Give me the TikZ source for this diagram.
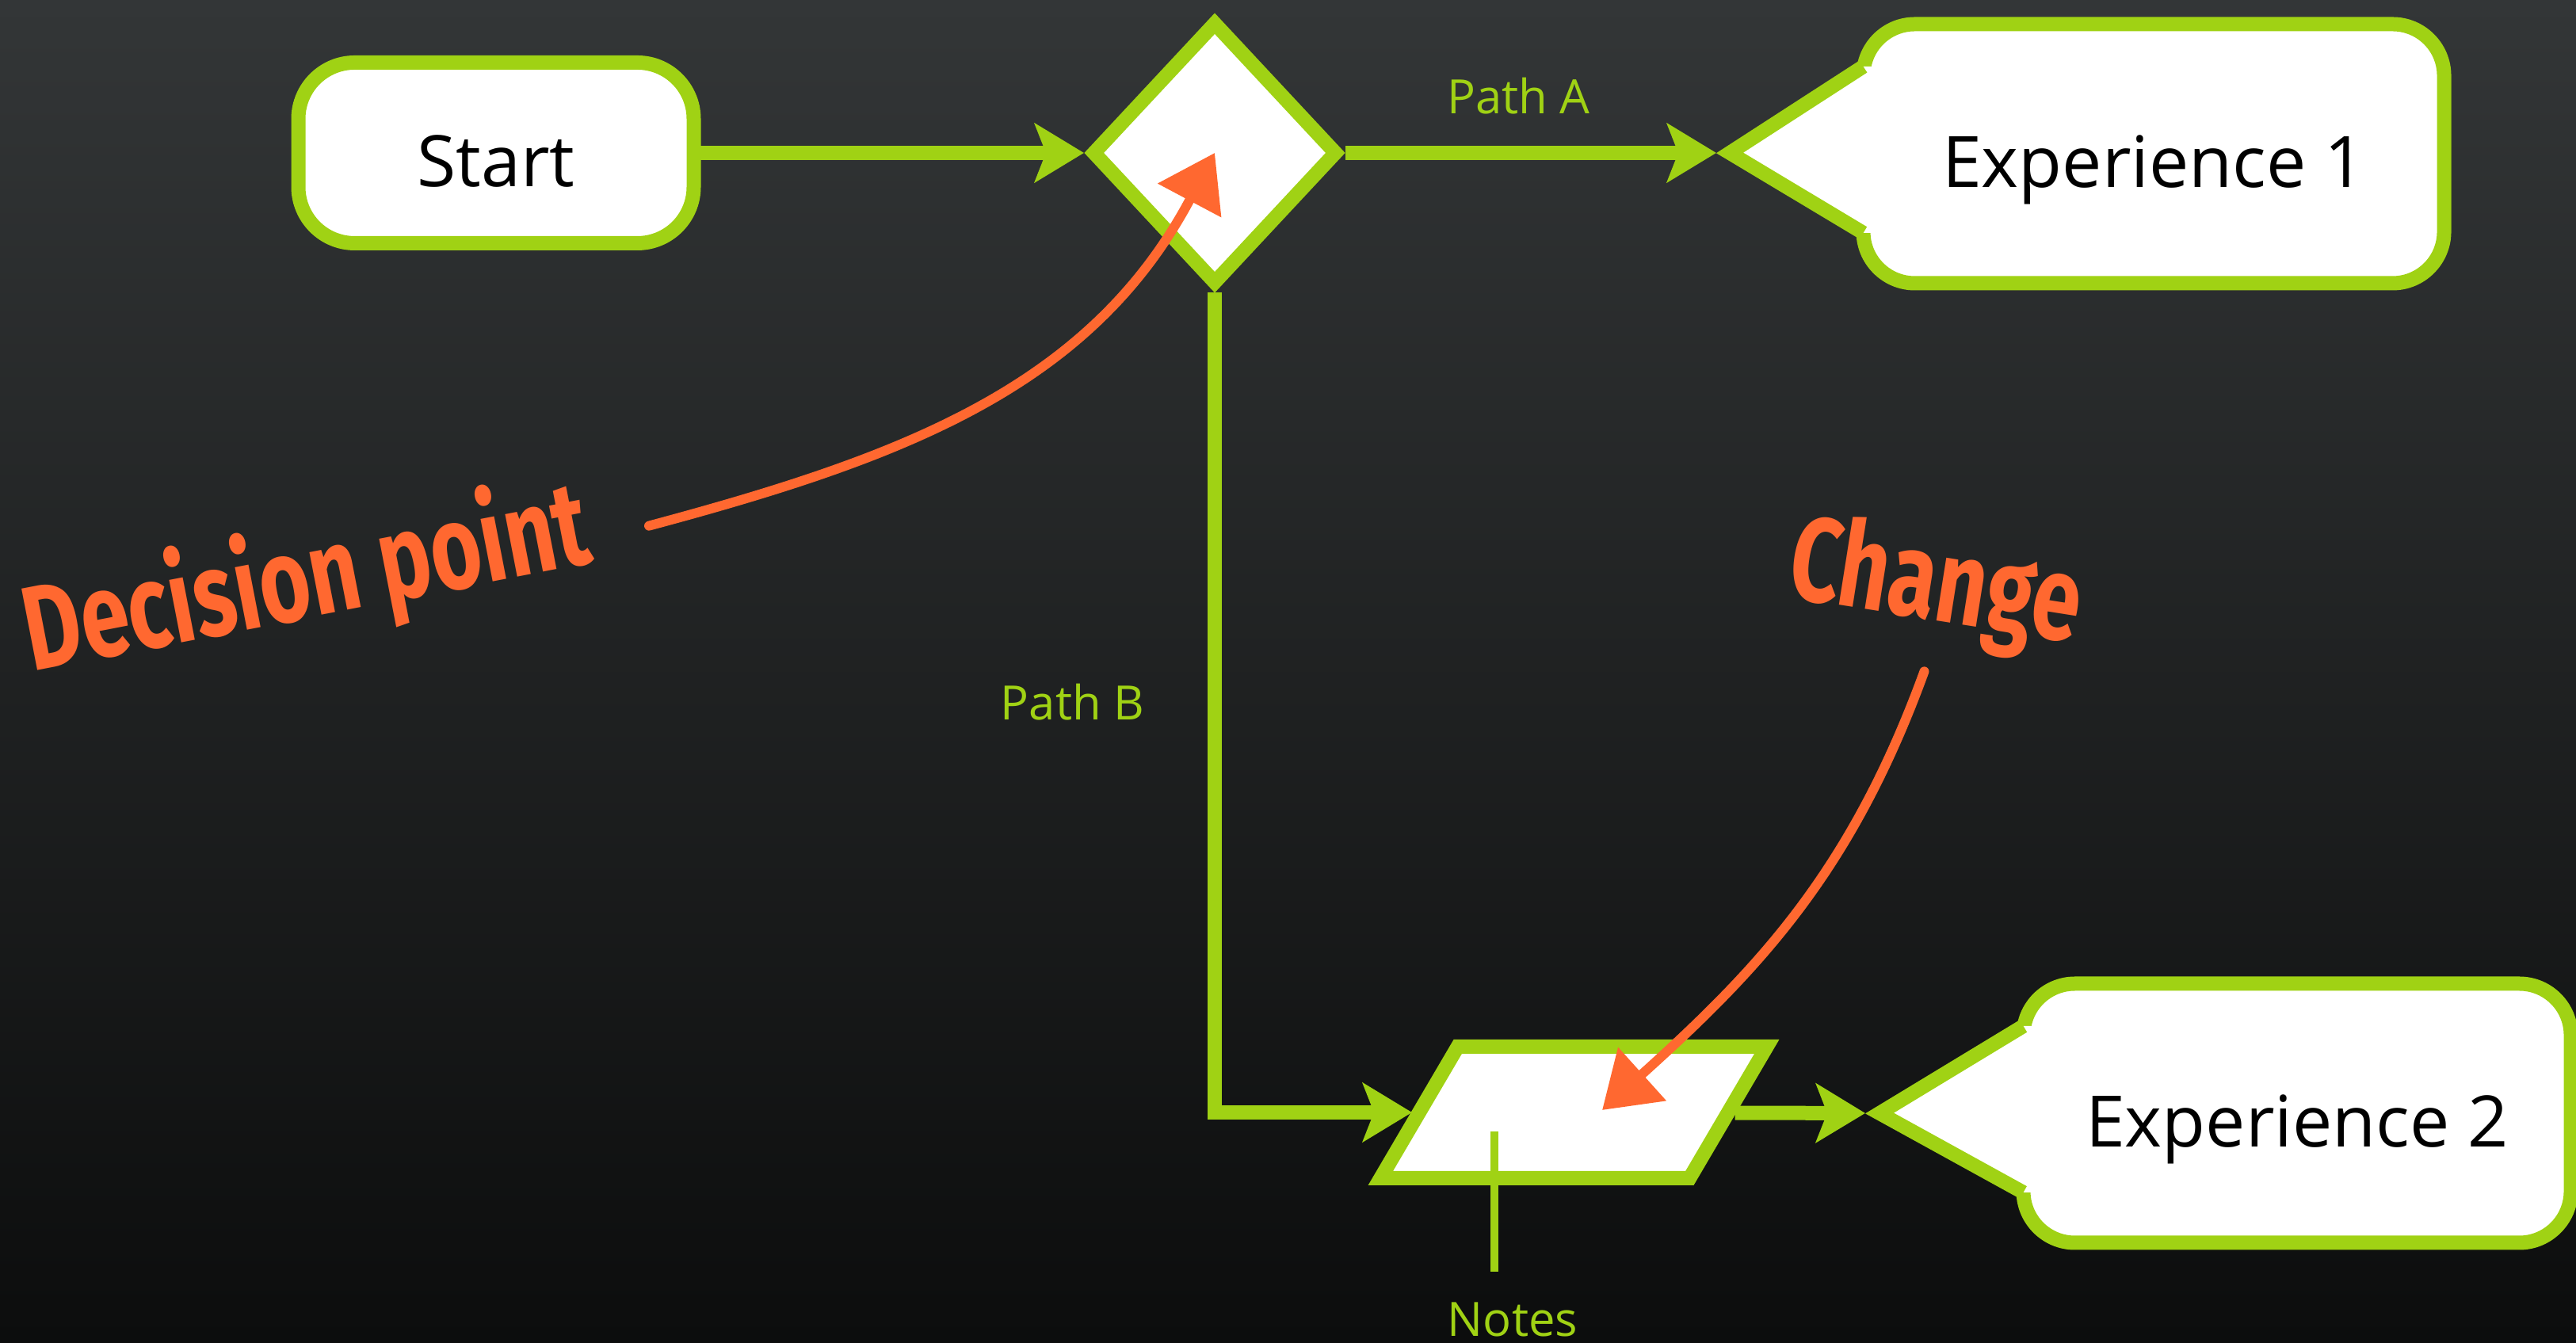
\documentclass[tikz,border=0pt]{standalone}
\usepackage{fontspec}
\setmainfont{Open Sans}
\newfontfamily\markerfont{Fira Sans}[FakeStretch=0.73]
\usetikzlibrary{arrows.meta,positioning,calc,shapes.geometric}
\definecolor{flowgreen}{RGB}{160,210,20}
\definecolor{markorange}{RGB}{255,104,48}
\definecolor{bgtop}{RGB}{51,54,55}
\definecolor{bgbottom}{RGB}{12,13,13}

\begin{document}
\begin{tikzpicture}[
  boxtext/.style={font=\fontsize{25.5pt}{30pt}\selectfont,text height=30pt,text depth=6pt},
  box/.style={boxtext,draw=flowgreen,fill=white,line width=1.8mm,outer sep=0pt},
  startbox/.style={box,rounded corners=7.1mm,minimum width=49.9mm,minimum height=22.8mm},
  expbox/.style={box,rounded corners=6.5mm,minimum height=32.7mm},
  decisionbox/.style={diamond,draw=flowgreen,fill=white,line width=1.8mm,
    minimum width=31.2mm,minimum height=33.4mm,inner sep=2mm},
  notebox/.style={rectangle,xslant=0.587,draw=flowgreen,fill=white,line width=1.8mm,
    minimum width=39mm,minimum height=16.6mm,inner sep=0pt},
  flow/.style={draw=flowgreen,line width=1.8mm,-{Stealth[length=6.2mm,width=7.4mm,inset=1.4mm]}},
  noteline/.style={draw=flowgreen,line width=1mm},
  pathlabel/.style={text=flowgreen,font=\fontsize{17pt}{20pt}\selectfont,inner sep=0pt},
  remark/.style={text=markorange,font=\markerfont\bfseries\fontsize{43pt}{50pt}\selectfont},
  remarkarrow/.style={draw=markorange,line width=1.2mm,line cap=round,-{Triangle[length=6.8mm,width=8.8mm]}}
]
\path[use as bounding box] (0,0) rectangle (32.51,16.95);
\clip (0,0) rectangle (32.51,16.95);
\shade[top color=bgtop,bottom color=bgbottom] (0,0) rectangle (32.51,16.95);

% flow chart
\node[startbox] (start) at (6.26,15.02) {Start};
\node[decisionbox] (decision) at (15.33,15.02) {};
\node[expbox,minimum width=73.3mm] (exp1) at (27.18,15.01) {Experience 1};
\node[notebox] (para) at (19.86,2.91) {};
\node[expbox,minimum width=69.1mm] (exp2) at (28.99,2.90) {Experience 2};

% callout pointers
\coordinate (tip1) at (21.83,15.02);
\coordinate (tip2) at (23.72,2.90);
\foreach \e in {1,2}{
  \fill[white] ($(exp\e.west)+(0,1.1)$) -- (tip\e) -- ($(exp\e.west)+(0,-1.0)$)
    -- ++(0.3,0) -- ($(exp\e.west)+(0.3,1.1)$) -- cycle;
  \draw[flowgreen,line width=1.8mm] ($(exp\e.west)+(0,1.1)$) -- (tip\e) -- ($(exp\e.west)+(0,-1.0)$);
}

\draw[flow] (start) -- (decision);
\draw[flow,shorten >=1.7mm] (decision) -- node[pathlabel,above=4mm,pos=0.45] {Path A} (tip1);
\draw[flow] (decision) |- node[pathlabel,left=8mm,pos=0.25] {Path B} (para);
\draw[flow,shorten >=1.8mm] (para) -- (tip2);

\node[pathlabel,inner ysep=3.8mm] (notes) at (19.09,0.30) {Notes};
\coordinate (noteanchor) at ($(para.center)+(-1.0,-0.24)$);
\draw[noteline] (noteanchor) -- (noteanchor |- notes.north);

% hand-written remarks
\node[remark,rotate=11] (dplabel) at (3.87,9.60) {Decision point};
\node[remark,rotate=-9] (changelabel) at (24.42,9.53) {Change};
\coordinate (changetip) at ($(para.center)+(0.36,0.03)$);
\draw[remarkarrow] ([xshift=6.5mm]dplabel.east) to[out=15,in=242] (decision.center);
\draw[remarkarrow] ([yshift=-2mm]changelabel.south) to[out=250,in=42] (changetip);
\end{tikzpicture}
\end{document}
